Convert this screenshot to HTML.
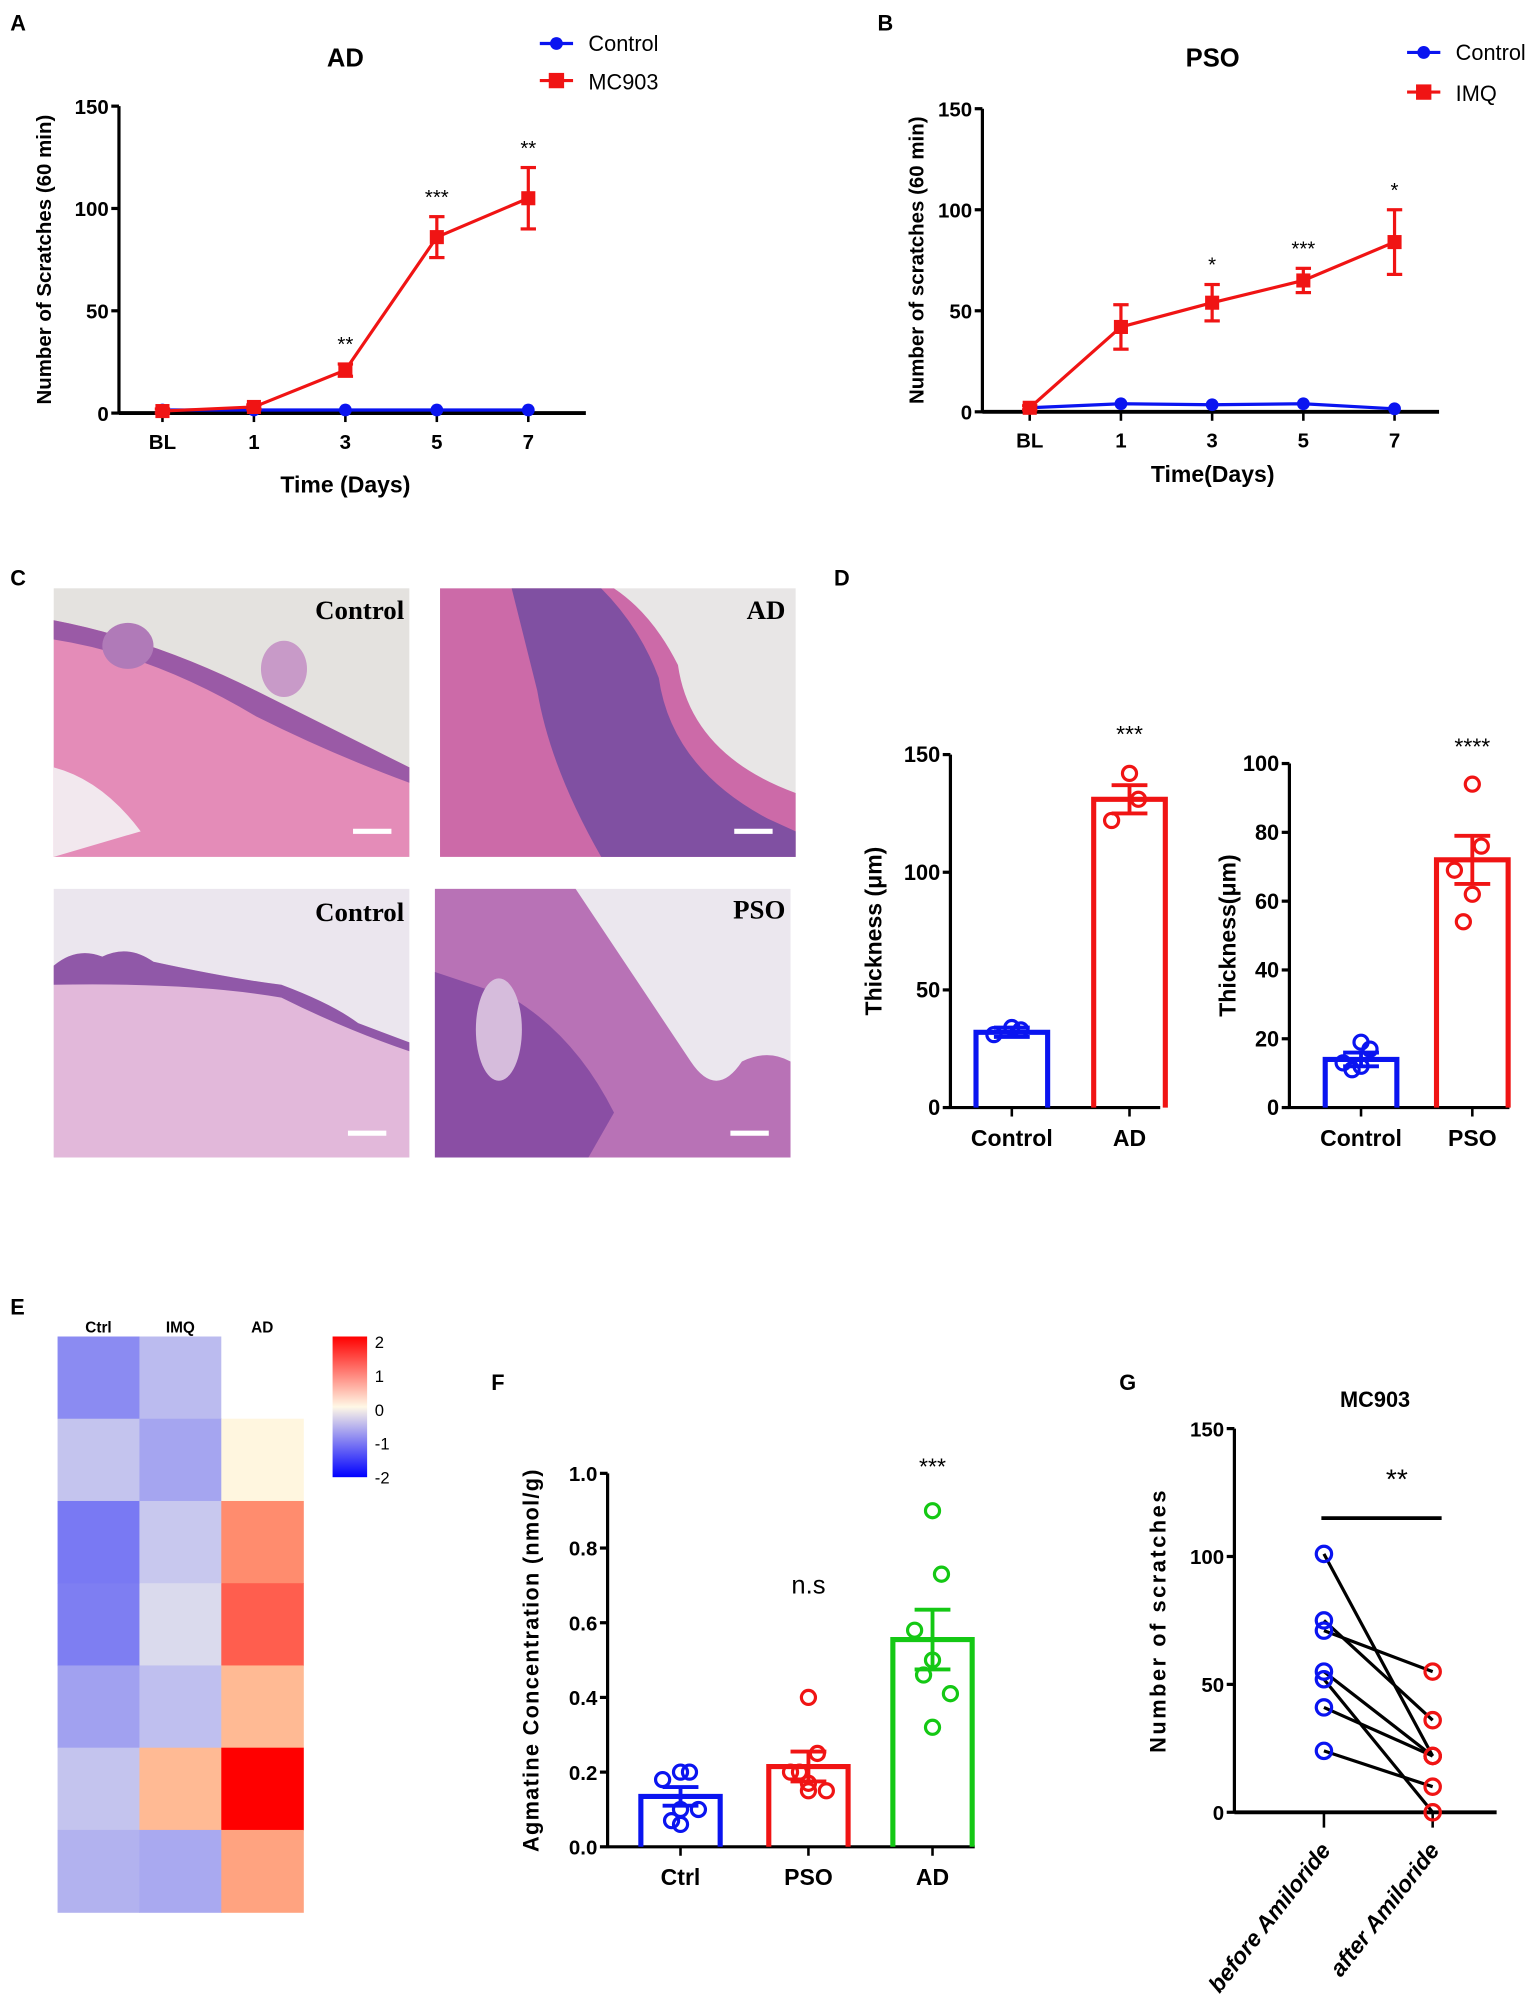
<!DOCTYPE html>
<html><head><meta charset="utf-8"><style>
html,body{margin:0;padding:0;background:#fff;}
svg{display:block;font-family:"Liberation Sans",Arial,sans-serif;}
</style></head><body>
<svg id="fig" width="1535" height="1999" viewBox="0 0 1200 1563" preserveAspectRatio="none" xmlns="http://www.w3.org/2000/svg">
<defs>
<linearGradient id="hmbar" x1="0" y1="0" x2="0" y2="1">
<stop offset="0" stop-color="#ff0000"/><stop offset="0.5" stop-color="#fff8e6"/><stop offset="1" stop-color="#0000ff"/>
</linearGradient>
</defs>
<g font-weight="bold" font-size="17">
<text x="8" y="24">A</text>
<text x="686" y="24">B</text>
<text x="8" y="458">C</text>
<text x="652" y="458">D</text>
<text x="8" y="1028">E</text>
<text x="384" y="1087">F</text>
<text x="875" y="1087">G</text>
</g>
<g>
 <g>
  <rect x="42" y="460" width="278" height="210" fill="#e4e2df"/>
  <path d="M42 485 Q120 500 200 540 T320 600 L320 670 L42 670Z" fill="#e48cb8"/>
  <path d="M42 485 Q120 500 200 540 T320 600 L320 612 Q260 590 200 560 Q120 512 42 500Z" fill="#9a5aa6"/>
  <path d="M42 600 Q80 610 110 650 L42 670Z" fill="#f2e8ee"/>
  <ellipse cx="100" cy="505" rx="20" ry="18" fill="#b07ab8"/>
  <ellipse cx="222" cy="523" rx="18" ry="22" fill="#c89ac8"/>
  <line x1="276" y1="650" x2="306" y2="650" stroke="#fff" stroke-width="4"/>
  <text x="316" y="484" text-anchor="end" font-family="Liberation Serif,serif" font-weight="bold" font-size="21">Control</text>
 </g>
 <g>
  <rect x="344" y="460" width="278" height="210" fill="#e8e6e6"/>
  <path d="M344 460 L480 460 Q510 480 530 520 Q540 590 622 620 L622 670 L344 670Z" fill="#cc6aa8"/>
  <path d="M400 460 L470 460 Q500 490 515 530 Q525 600 600 640 L622 650 L622 670 L470 670 Q430 600 420 540Z" fill="#8050a2"/>
  <line x1="574" y1="650" x2="604" y2="650" stroke="#fff" stroke-width="4"/>
  <text x="614" y="484" text-anchor="end" font-family="Liberation Serif,serif" font-weight="bold" font-size="21">AD</text>
 </g>
 <g>
  <rect x="42" y="695" width="278" height="210" fill="#ebe6ee"/>
  <path d="M42 755 Q60 740 80 748 Q100 738 120 752 Q180 765 220 770 Q260 785 280 800 L320 815 L320 905 L42 905Z" fill="#e2b8da"/>
  <path d="M42 755 Q60 740 80 748 Q100 738 120 752 Q180 765 220 770 Q260 785 280 800 L320 815 L320 822 Q270 805 220 780 Q150 768 42 770Z" fill="#9058a8"/>
  <line x1="272" y1="886" x2="302" y2="886" stroke="#fff" stroke-width="4"/>
  <text x="316" y="720" text-anchor="end" font-family="Liberation Serif,serif" font-weight="bold" font-size="21">Control</text>
 </g>
 <g>
  <rect x="340" y="695" width="278" height="210" fill="#ebe7ee"/>
  <path d="M340 695 L450 695 Q480 740 500 770 Q520 800 540 830 Q560 860 580 830 Q600 820 618 830 L618 905 L340 905Z" fill="#b872b6"/>
  <path d="M340 760 L400 780 Q450 810 480 870 L460 905 L340 905Z" fill="#8a4ea4"/>
  <ellipse cx="390" cy="805" rx="18" ry="40" fill="#d6bcdc"/>
  <line x1="571" y1="886" x2="601" y2="886" stroke="#fff" stroke-width="4"/>
  <text x="614" y="718" text-anchor="end" font-family="Liberation Serif,serif" font-weight="bold" font-size="21">PSO</text>
 </g>
</g>
<g id="charts"></g>
</svg>
<script>
const timeCats = ["BL","1","3","5","7"];
const adControl = [1.5,1.5,1.5,1.5,1.5];
const adMC903 = [1,3,21,86,105];
const adMC903Err = [1,1,3,10,15];
const adStars = ["","","**","***","**"];
const psoControl = [2,4,3.5,4,1.5];
const psoIMQ = [2,42,54,65,84];
const psoIMQErr = [1,11,9,6,16];
const psoStars = ["","","*","***","*"];
const scratchTicks = [0,50,100,150];

const thickCats1 = ["Control","AD"];
const thickMeans1 = [32,131];
const thickErr1 = [2,6];
const thickPtsCtrl1 = [34,33,31];
const thickPtsAD1 = [142,131,122];
const thickTicks1 = [0,50,100,150];
const thickCats2 = ["Control","PSO"];
const thickMeans2 = [14,72];
const thickErr2 = [2,7];
const thickPtsCtrl2 = [19,17,13,12,11];
const thickPtsPSO2 = [94,76,69,62,54];
const thickTicks2 = [0,20,40,60,80,100];

const heatCols = ["Ctrl","IMQ","AD"];
const heatVals = [
 [-1.1,-0.55,0],
 [-0.45,-0.8,0.08],
 [-1.3,-0.4,1.0],
 [-1.25,-0.2,1.4],
 [-0.85,-0.5,0.6],
 [-0.45,0.6,2.0],
 [-0.65,-0.75,0.8]
];
const heatTicks = [2,1,0,-1,-2];

const agCats = ["Ctrl","PSO","AD"];
const agMeans = [0.135,0.215,0.555];
const agErr = [0.025,0.04,0.08];
const agPtsCtrl = [0.2,0.2,0.18,0.1,0.07,0.1,0.06];
const agPtsPSO = [0.4,0.25,0.2,0.17,0.2,0.15,0.15];
const agPtsAD = [0.9,0.73,0.58,0.5,0.46,0.41,0.32];
const agTicks = [0,0.2,0.4,0.6,0.8,1.0];

const amilCats = ["before Amiloride","after Amiloride"];
const amilBefore = [101,75,71,55,52,41,24];
const amilAfter = [22,36,55,22,0,22,10];
const amilTicks = [0,50,100,150];

const NS = "http://www.w3.org/2000/svg";
const root = document.getElementById("charts");
function mk(parent, tag, attrs, name, txt) {
  const el = document.createElementNS(NS, tag);
  for (const k in attrs) el.setAttribute(k, attrs[k]);
  
  
  if (txt !== undefined) el.textContent = txt;
  parent.appendChild(el);
  return el;
}
function grp(name) { return mk(root, "g", {}, name); }
function lin(d0, d1, r0, r1) { return v => r0 + (v - d0) * (r1 - r0) / (d1 - d0); }

function yAxis(g, x, y, ticks, fmt, fs) {
  mk(g, "line", {x1:x, y1:y(ticks[0])+1, x2:x, y2:y(ticks[ticks.length-1]), stroke:"#000","stroke-width":2.5}, "y-axis-line");
  ticks.forEach(t => {
    mk(g, "line", {x1:x-6, y1:y(t), x2:x, y2:y(t), stroke:"#000","stroke-width":2.5}, "y-tick");
    mk(g, "text", {x:x-8, y:y(t)+6, "text-anchor":"end", "font-size":fs, "font-weight":"bold"}, "y-tick-label", fmt(t));
  });
}

function lineChart(o) {
  const g = grp(o.name);
  const y = lin(0, 150, o.y0, o.y150);
  const x = i => o.xs0 + i * o.dx;
  yAxis(g, o.ax, y, scratchTicks, t => String(t), 16);
  mk(g, "line", {x1:o.ax, y1:y(0), x2:o.axEnd, y2:y(0), stroke:"#000","stroke-width":3}, "x-axis-line");
  timeCats.forEach((c, i) => {
    mk(g, "line", {x1:x(i), y1:y(0), x2:x(i), y2:y(0)+7, stroke:"#000","stroke-width":2}, "x-tick");
    mk(g, "text", {x:x(i), y:y(0)+28, "text-anchor":"middle", "font-size":16, "font-weight":"bold"}, "x-tick-label", c);
  });
  mk(g, "text", {x:o.xtX, y:o.xtY, "text-anchor":"middle", "font-size":18, "font-weight":"bold"}, "x-axis-title", o.xTitle);
  const cy = (o.y0 + o.y150) / 2;
  mk(g, "text", {x:0, y:0, transform:`translate(${o.ytX},${cy}) rotate(-90)`, "text-anchor":"middle", "font-size":16, "font-weight":"bold"}, "y-axis-title", o.yTitle);
  mk(g, "text", {x:o.titleX, y:52, "text-anchor":"middle", "font-size":20, "font-weight":"bold"}, "chart-title", o.title);
  mk(g, "polyline", {points:o.ctrl.map((v,i)=>x(i)+","+y(v)).join(" "), fill:"none", stroke:"#0a14f0","stroke-width":2.5}, "control-line");
  o.ctrl.forEach((v,i)=>mk(g,"circle",{cx:x(i),cy:y(v),r:5,fill:"#0a14f0"},"control-point"));
  mk(g, "polyline", {points:o.treat.map((v,i)=>x(i)+","+y(v)).join(" "), fill:"none", stroke:"#f01414","stroke-width":2.5}, "treatment-line");
  o.treat.forEach((v,i)=>{
    const e = o.err[i];
    mk(g,"line",{x1:x(i),y1:y(v+e),x2:x(i),y2:y(v-e),stroke:"#f01414","stroke-width":2.5},"error-bar");
    mk(g,"line",{x1:x(i)-6,y1:y(v+e),x2:x(i)+6,y2:y(v+e),stroke:"#f01414","stroke-width":2.5},"error-cap-top");
    mk(g,"line",{x1:x(i)-6,y1:y(v-e),x2:x(i)+6,y2:y(v-e),stroke:"#f01414","stroke-width":2.5},"error-cap-bottom");
    mk(g,"rect",{x:x(i)-5.5,y:y(v)-5.5,width:11,height:11,fill:"#f01414"},"treatment-point");
    if (o.stars[i]) mk(g,"text",{x:x(i),y:y(v+e)-10,"text-anchor":"middle","font-size":16},"significance-stars",o.stars[i]);
  });
  const L = mk(g, "g", {}, "legend");
  mk(L,"line",{x1:o.lx,y1:o.ly1,x2:o.lx+26,y2:o.ly1,stroke:"#0a14f0","stroke-width":2.5},"legend-control-line");
  mk(L,"circle",{cx:o.lx+13,cy:o.ly1,r:5,fill:"#0a14f0"},"legend-control-marker");
  mk(L,"text",{x:o.lx+38,y:o.ly1+6,"font-size":17},"legend-control-label","Control");
  mk(L,"line",{x1:o.lx,y1:o.ly2,x2:o.lx+26,y2:o.ly2,stroke:"#f01414","stroke-width":2.5},"legend-treatment-line");
  mk(L,"rect",{x:o.lx+7,y:o.ly2-6,width:12,height:12,fill:"#f01414"},"legend-treatment-marker");
  mk(L,"text",{x:o.lx+38,y:o.ly2+7,"font-size":17},"legend-treatment-label",o.treatName);
}
lineChart({name:"chart-a-ad-scratches", y0:323, y150:83, ax:93, axEnd:458, xs0:127, dx:71.5,
  xtX:270, xtY:385, ytX:40, yTitle:"Number of Scratches (60 min)", title:"AD", titleX:270,
  ctrl:adControl, treat:adMC903, err:adMC903Err, stars:adStars,
  lx:422, ly1:34, ly2:63, treatName:"MC903", xTitle:"Time (Days)"});
lineChart({name:"chart-b-pso-scratches", y0:322, y150:85, ax:768, axEnd:1125, xs0:805, dx:71.3,
  xtX:948, xtY:377, ytX:722, yTitle:"Number of scratches (60 min)", title:"PSO", titleX:948,
  ctrl:psoControl, treat:psoIMQ, err:psoIMQErr, stars:psoStars,
  lx:1100, ly1:41, ly2:72, treatName:"IMQ", xTitle:"Time(Days)"});

function barChart(o) {
  const g = grp(o.name);
  const t = o.ticks;
  const y = lin(t[0], t[t.length-1], o.y0, o.yTop);
  yAxis(g, o.ax, y, t, o.fmt, o.fs);
  mk(g,"line",{x1:o.ax,y1:y(0),x2:o.axEnd,y2:y(0),stroke:"#000","stroke-width":2.5},"x-axis-line");
  mk(g,"text",{x:0,y:0,transform:`translate(${o.ytX},${(o.y0+o.yTop)/2}) rotate(-90)`,"text-anchor":"middle","font-size":o.ytFs,"font-weight":"bold","letter-spacing":o.ls||0},"y-axis-title",o.yTitle);
  o.cats.forEach((c,i)=>{
    const cx = o.xs[i], col = o.colors[i], hw = o.bw/2, m = o.means[i], e = o.err[i];
    mk(g,"line",{x1:cx,y1:y(0),x2:cx,y2:y(0)+7,stroke:"#000","stroke-width":2}, "x-tick");
    mk(g,"text",{x:cx,y:y(0)+30,"text-anchor":"middle","font-size":18,"font-weight":"bold"},"x-tick-label",c);
    mk(g,"path",{d:`M${cx-hw} ${y(0)} L${cx-hw} ${y(m)} L${cx+hw} ${y(m)} L${cx+hw} ${y(0)}`,fill:"none",stroke:col,"stroke-width":4},"bar-"+c.toLowerCase());
    mk(g,"line",{x1:cx,y1:y(m+e),x2:cx,y2:y(m-e),stroke:col,"stroke-width":3},"error-bar");
    mk(g,"line",{x1:cx-14,y1:y(m+e),x2:cx+14,y2:y(m+e),stroke:col,"stroke-width":3},"error-cap-top");
    mk(g,"line",{x1:cx-14,y1:y(m-e),x2:cx+14,y2:y(m-e),stroke:col,"stroke-width":3},"error-cap-bottom");
    const pts = o.pts[i], n = pts.length;
    pts.forEach((v,j)=>{
      const off = n>1 ? (j%2===0?-1:1)*((j%3)*7) : 0;
      mk(g,"circle",{cx:cx+off,cy:y(v),r:5.5,fill:"none",stroke:col,"stroke-width":2.5},"data-point");
    });
    if (o.labels[i]) mk(g,"text",{x:cx,y:o.labelY[i],"text-anchor":"middle","font-size":o.labelFs[i]||18},"significance-label",o.labels[i]);
  });
}
barChart({name:"chart-d-thickness-ad", ticks:thickTicks1, y0:866, yTop:590, ax:743, axEnd:907, fmt:v=>String(v), fs:17,
  ytX:689, ytFs:18, yTitle:"Thickness (μm)", cats:thickCats1, xs:[791,883], bw:56, colors:["#0a14f0","#f01414"],
  means:thickMeans1, err:thickErr1, pts:[thickPtsCtrl1,thickPtsAD1], labels:["","***"], labelY:[0,580], labelFs:[18,18]});
barChart({name:"chart-d-thickness-pso", ticks:thickTicks2, y0:866, yTop:597, ax:1008, axEnd:1180, fmt:v=>String(v), fs:17,
  ytX:966, ytFs:18, yTitle:"Thickness(μm)", cats:thickCats2, xs:[1064,1151], bw:56, colors:["#0a14f0","#f01414"],
  means:thickMeans2, err:thickErr2, pts:[thickPtsCtrl2,thickPtsPSO2], labels:["","****"], labelY:[0,590], labelFs:[18,18]});
barChart({name:"chart-f-agmatine", ticks:agTicks, y0:1444, yTop:1152, ax:475, axEnd:762, fmt:v=>v.toFixed(1), fs:16,
  ytX:421, ytFs:17, ls:1, yTitle:"Agmatine Concentration (nmol/g)", cats:agCats, xs:[532,632,729], bw:62,
  colors:["#0a14f0","#f01414","#14c814"], means:agMeans, err:agErr, pts:[agPtsCtrl,agPtsPSO,agPtsAD],
  labels:["","n.s","***"], labelY:[0,1246,1153], labelFs:[18,20,18]});

(function(){
  const g = grp("chart-e-heatmap");
  const x0 = 45, y0 = 1045, cw = 64, rh = 64.3;
  function color(v){
    v = Math.max(-2, Math.min(2, v));
    let r,gg,b;
    if (v === 0) { r = 255; gg = 255; b = 255; }
    else if (v > 0) {
      r = 255;
      gg = Math.max(0, 255 - 115*v - (v > 1.5 ? (v-1.5)*60 : 0));
      b = Math.max(0, 255 - 145*Math.pow(v,0.6) - (v > 1.5 ? (v-1.5)*70 : 0));
    } else {
      const s = -v/2;
      r = Math.max(0, 235 - 175*s); gg = r; b = 236 + 10*s;
    }
    return `rgb(${Math.round(r)},${Math.round(gg)},${Math.round(b)})`;
  }
  heatCols.forEach((c,j)=>mk(g,"text",{x:x0+cw*j+cw/2,y:1042,"text-anchor":"middle","font-size":12,"font-weight":"bold"},"heatmap-column-label",c));
  heatVals.forEach((row,i)=>row.forEach((v,j)=>{
    mk(g,"rect",{x:x0+j*cw,y:y0+i*rh,width:cw+0.5,height:rh+0.5,fill:color(v)},"heatmap-cell");
  }));
  mk(g,"rect",{x:260,y:1045,width:27,height:110,fill:"url(#hmbar)"},"color-scale-bar");
  heatTicks.forEach(t=>mk(g,"text",{x:293,y:1054+(2-t)*26.5,"font-size":13},"color-scale-label",String(t)));
})();

(function(){
  const g = grp("chart-g-amiloride");
  const y = lin(0,150,1417,1117);
  const xs = [1035,1120];
  yAxis(g, 965, y, amilTicks, t=>String(t), 16);
  mk(g,"line",{x1:965,y1:y(0),x2:1170,y2:y(0),stroke:"#000","stroke-width":3},"x-axis-line");
  mk(g,"text",{x:1075,y:1100,"text-anchor":"middle","font-size":17,"font-weight":"bold"},"chart-title","MC903");
  mk(g,"text",{x:0,y:0,transform:"translate(911,1267) rotate(-90)","text-anchor":"middle","font-size":17,"font-weight":"bold","letter-spacing":2},"y-axis-title","Number  of scratches");
  mk(g,"line",{x1:1033,y1:1187,x2:1127,y2:1187,stroke:"#000","stroke-width":3},"significance-bar");
  mk(g,"text",{x:1092,y:1164,"text-anchor":"middle","font-size":22},"significance-stars","**");
  amilCats.forEach((c,i)=>{
    mk(g,"line",{x1:xs[i],y1:y(0),x2:xs[i],y2:y(0)+12,stroke:"#000","stroke-width":2},"x-tick");
    mk(g,"text",{x:0,y:0,transform:`translate(${xs[i]+6},${y(0)+30}) rotate(-52)`,"text-anchor":"end","font-size":18,"font-weight":"bold","font-style":"italic"},"x-tick-label",c);
  });
  amilBefore.forEach((v,i)=>{
    mk(g,"line",{x1:xs[0],y1:y(v),x2:xs[1],y2:y(amilAfter[i]),stroke:"#000","stroke-width":2.5},"pair-line");
  });
  amilBefore.forEach(v=>mk(g,"circle",{cx:xs[0],cy:y(v),r:6,fill:"none",stroke:"#0a14f0","stroke-width":2.5},"before-point"));
  amilAfter.forEach(v=>mk(g,"circle",{cx:xs[1],cy:y(v),r:6,fill:"none",stroke:"#f01414","stroke-width":2.5},"after-point"));
})();
</script>
</body></html>
